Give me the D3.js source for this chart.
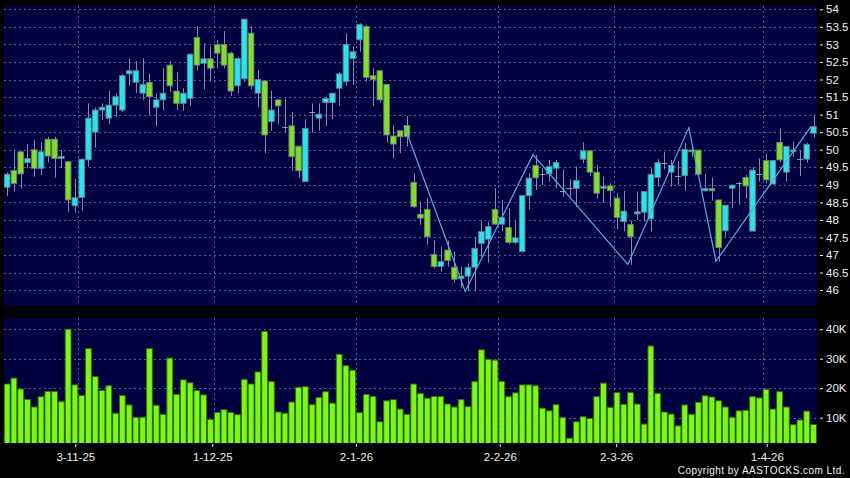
<!DOCTYPE html>
<html>
<head>
<meta charset="utf-8">
<script src="https://cdn.jsdelivr.net/npm/d3@7"></script>
<style>
  html, body { margin: 0; padding: 0; background: #000; }
  svg { display: block; font-family: "Liberation Sans", Arial, sans-serif; }
</style>
</head>
<body>
<svg id="chart" width="850" height="478"></svg>
<script>
// daily bars, oldest first (index 0 .. 119)
const opens = [48.93, 49.41, 49.94, 49.63, 50.00, 49.47, 50.30, 50.30, 49.75, 49.66,
  48.40, 48.64, 49.71, 50.50, 51.13, 50.90, 51.27, 51.13, 52.16, 51.92,
  51.61, 51.92, 51.21, 51.42, 52.41, 51.67, 51.32, 51.46, 53.20, 52.46,
  52.59, 53.00, 53.00, 52.75, 51.82, 52.02, 53.32, 51.61, 51.96, 50.80,
  51.42, 50.66, 50.68, 50.10, 49.09, 51.06, 50.90, 51.34, 51.34, 51.75,
  51.94, 52.60, 53.13, 53.51, 52.11, 52.25, 51.86, 50.39, 50.54, 50.69,
  49.07, 48.16, 48.30, 47.02, 46.67, 47.14, 46.65, 46.33, 46.40, 46.65,
  47.33, 47.45, 48.30, 47.88, 47.78, 47.36, 47.10, 48.69, 49.55, 49.31,
  49.31, 49.47, 48.81, 48.90, 48.90, 49.73, 49.97, 49.36, 48.90, 48.97,
  48.62, 47.95, 47.87, 48.17, 48.22, 48.03, 49.21, 49.63, 49.36, 49.26,
  49.26, 49.99, 49.99, 48.83, 48.89, 48.57, 47.69, 48.90, 49.06, 49.21,
  47.68, 49.30, 49.69, 49.02, 50.21, 49.36, 49.94, 49.73, 49.73, 50.47];
const highs = [49.35, 49.99, 49.95, 50.16, 50.28, 50.21, 50.37, 50.37, 49.99, 49.68,
  49.16, 49.75, 51.32, 51.20, 51.32, 51.68, 51.61, 52.16, 52.60, 52.53,
  52.60, 52.16, 51.61, 52.32, 52.53, 52.22, 51.75, 52.73, 53.52, 53.03,
  52.94, 53.13, 53.38, 52.79, 52.65, 53.72, 53.52, 52.27, 51.96, 51.68,
  51.45, 51.46, 51.07, 50.10, 50.87, 51.32, 51.32, 51.51, 51.61, 52.22,
  53.32, 52.94, 53.60, 53.55, 52.32, 52.25, 51.86, 50.70, 50.54, 50.96,
  49.33, 48.52, 48.62, 47.41, 47.24, 47.41, 47.10, 46.67, 46.76, 47.52,
  47.99, 47.95, 48.90, 48.57, 48.33, 47.98, 48.69, 49.33, 49.85, 49.47,
  49.71, 49.71, 49.44, 49.16, 49.52, 50.21, 49.97, 49.57, 49.23, 49.04,
  48.76, 48.83, 47.98, 48.81, 48.81, 49.47, 49.73, 49.94, 49.71, 49.66,
  50.20, 50.16, 49.99, 49.31, 49.21, 48.57, 48.42, 49.00, 49.09, 49.28,
  49.50, 49.75, 49.88, 49.69, 50.61, 50.09, 50.23, 49.99, 50.20, 50.96];
const lows = [48.68, 48.81, 48.89, 49.47, 49.23, 49.28, 49.63, 49.20, 49.47, 48.23,
  48.21, 48.26, 49.52, 50.06, 50.85, 50.73, 50.94, 51.08, 51.84, 51.61,
  51.42, 50.99, 50.66, 51.11, 51.65, 51.13, 51.11, 51.25, 52.25, 51.72,
  51.94, 52.32, 52.32, 51.53, 51.61, 51.94, 51.72, 51.21, 49.90, 50.54,
  50.73, 50.49, 49.40, 49.20, 49.09, 50.49, 50.54, 50.68, 50.87, 51.25,
  51.82, 51.84, 52.79, 51.94, 51.25, 51.34, 50.20, 49.75, 49.90, 50.09,
  48.33, 47.86, 47.29, 46.62, 46.53, 46.67, 46.21, 46.05, 45.96, 45.96,
  46.95, 46.78, 47.86, 47.67, 47.31, 47.31, 47.07, 48.30, 48.85, 48.99,
  49.09, 48.90, 48.66, 48.66, 48.36, 49.61, 49.25, 48.60, 48.49, 48.38,
  47.73, 47.68, 46.72, 48.00, 47.95, 47.67, 48.95, 49.44, 48.95, 48.99,
  48.83, 49.80, 49.30, 48.81, 48.55, 46.81, 47.52, 48.33, 48.43, 48.62,
  47.68, 49.09, 49.04, 49.02, 49.64, 49.09, 49.80, 49.25, 49.63, 50.35];
const closes = [49.30, 49.04, 49.31, 49.75, 49.47, 49.94, 49.82, 49.75, 49.81, 48.57,
  48.63, 49.73, 50.90, 51.13, 51.21, 51.27, 51.51, 52.11, 52.25, 52.25,
  51.86, 51.51, 51.42, 51.61, 51.82, 51.32, 51.61, 52.72, 52.41, 52.59,
  52.32, 52.75, 52.41, 51.67, 52.60, 53.72, 51.82, 52.00, 50.42, 51.13,
  51.25, 50.66, 49.80, 49.40, 50.61, 51.06, 51.01, 51.46, 51.61, 52.16,
  53.00, 52.79, 53.57, 52.06, 52.00, 51.42, 50.42, 50.16, 50.37, 50.37,
  48.38, 48.05, 47.52, 46.67, 46.81, 46.84, 46.31, 46.40, 46.65, 47.19,
  47.67, 47.81, 47.88, 48.07, 47.36, 47.49, 48.69, 49.19, 49.20, 49.31,
  49.52, 49.64, 48.81, 48.90, 49.12, 49.97, 49.36, 48.76, 48.95, 48.83,
  48.07, 48.25, 47.52, 48.23, 48.81, 49.30, 49.63, 49.63, 49.55, 49.26,
  50.01, 49.94, 49.30, 48.89, 48.83, 47.21, 48.42, 48.99, 49.06, 48.97,
  49.42, 49.30, 49.14, 49.69, 49.71, 50.09, 49.99, 49.73, 50.15, 50.66];
const volumes = [21400, 23400, 19700, 16200, 13600, 17100, 18900, 18900, 15400, 40000,
  21100, 17500, 33400, 23900, 19200, 20800, 11500, 17500, 14300, 10100,
  10100, 33400, 14200, 11100, 30200, 17900, 22800, 21800, 19200, 17700,
  9400, 11700, 12700, 11700, 11000, 23000, 21400, 25500, 39300, 22200,
  11900, 11500, 15300, 20300, 20500, 14400, 16800, 18800, 14900, 31500,
  27600, 26100, 11700, 17900, 17200, 8600, 15700, 16100, 12900, 11100,
  21400, 18200, 16600, 17200, 17200, 14600, 13600, 16100, 13700, 22200,
  33000, 29800, 29500, 22300, 17100, 18400, 21100, 21100, 20800, 13200,
  12300, 14400, 10000, 3000, 8600, 10300, 9700, 17100, 21700, 13500,
  18500, 14500, 18500, 14600, 7800, 34300, 18200, 11900, 11200, 7200,
  14300, 11100, 15200, 17400, 17000, 15700, 13600, 10100, 12300, 12500,
  17100, 16700, 19600, 12900, 18800, 13600, 7600, 9200, 12200, 7700];

// zigzag pivots: [bar index, price]
const zigzagIdx = [59, 68, 78, 92, 101, 105, 119];
const zigzagVal = [50.68, 45.96, 49.86, 46.73, 50.63, 46.82, 50.66];

// first trading day of each labelled month
const monthIdx = [11, 31, 52, 73, 90, 112];
const monthLabels = ['3-11-25', '1-12-25', '2-1-26', '2-2-26', '2-3-26', '1-4-26'];

const priceTicks = d3.range(46, 54.01, 0.5);
const volTicks = [10000, 20000, 30000, 40000];

const bars = opens.map((o, i) => ({
  i, o, h: highs[i], l: lows[i], c: closes[i], v: volumes[i]
}));

const plotL = 4;
const plotR = 817;
const priceTop = 6;
const priceBot = 306;
const volTop = 318;
const volBot = 443;

const svg = d3.select('#chart');
svg.append('rect').attr('width', 850).attr('height', 478).attr('fill', '#000');

const x = d3.scaleLinear().domain([0, 119]).range([7.15, 813.5]);
const xTick = d3.scaleLinear().domain([0, 119]).range([3.4, 818.1]);
const y = d3.scaleLinear().domain([46, 54]).range([290.1, 9.3]);
const yV = d3.scaleLinear().domain([0, 40000]).range([447.1, 329.2]);

const gridColour = '#5a5a9c';
const textColour = '#f0f0f0';

// panels
svg.append('rect')
  .attr('x', plotL).attr('y', priceTop)
  .attr('width', plotR - plotL).attr('height', priceBot - priceTop)
  .attr('fill', '#000040');
svg.append('rect')
  .attr('x', plotL).attr('y', volTop)
  .attr('width', plotR - plotL).attr('height', volBot - volTop)
  .attr('fill', '#000040');

const defs = svg.append('defs');
defs.append('clipPath').attr('id', 'clipP')
  .append('rect').attr('x', plotL).attr('y', priceTop)
  .attr('width', plotR - plotL).attr('height', priceBot - priceTop);
defs.append('clipPath').attr('id', 'clipV')
  .append('rect').attr('x', plotL).attr('y', volTop)
  .attr('width', plotR - plotL).attr('height', volBot - volTop);

// grid
const grid = svg.append('g')
  .attr('stroke', gridColour)
  .attr('stroke-dasharray', '2,3')
  .attr('shape-rendering', 'crispEdges');

grid.selectAll('.hp').data(priceTicks).enter().append('line')
  .attr('x1', plotL).attr('x2', plotR)
  .attr('y1', d => Math.round(y(d)) + 0.5).attr('y2', d => Math.round(y(d)) + 0.5);
grid.selectAll('.hv').data(volTicks).enter().append('line')
  .attr('x1', plotL).attr('x2', plotR)
  .attr('y1', d => Math.round(yV(d)) + 0.5).attr('y2', d => Math.round(yV(d)) + 0.5);
grid.selectAll('.vp').data(monthIdx).enter().append('line')
  .attr('x1', d => Math.round(x(d - 0.5)) + 0.5).attr('x2', d => Math.round(x(d - 0.5)) + 0.5)
  .attr('y1', priceTop).attr('y2', priceBot);
grid.selectAll('.vv').data(monthIdx).enter().append('line')
  .attr('x1', d => Math.round(x(d - 0.5)) + 0.5).attr('x2', d => Math.round(x(d - 0.5)) + 0.5)
  .attr('y1', volTop).attr('y2', volBot);

// candles
const bodyW = 5.6;
const candles = svg.append('g').attr('clip-path', 'url(#clipP)');

candles.selectAll('.wick').data(bars).enter().append('line')
  .attr('x1', d => Math.round(x(d.i)) + 0.5).attr('x2', d => Math.round(x(d.i)) + 0.5)
  .attr('y1', d => y(d.h)).attr('y2', d => y(d.l))
  .attr('stroke', '#8a8aa6')
  .attr('stroke-width', 1);

candles.selectAll('.body').data(bars.filter(d => d.o !== d.c)).enter().append('rect')
  .attr('x', d => x(d.i) - bodyW / 2)
  .attr('y', d => y(Math.max(d.o, d.c)))
  .attr('width', bodyW)
  .attr('height', d => Math.max(1.5, Math.abs(y(d.o) - y(d.c))))
  .attr('fill', d => (d.c > d.o ? '#22e6f0' : '#80e21e'))
  .attr('stroke', '#6b7b84')
  .attr('stroke-width', 0.9);

candles.selectAll('.doji').data(bars.filter(d => d.o === d.c)).enter().append('line')
  .attr('x1', d => x(d.i) - bodyW / 2).attr('x2', d => x(d.i) + bodyW / 2)
  .attr('y1', d => Math.round(y(d.c)) + 0.5).attr('y2', d => Math.round(y(d.c)) + 0.5)
  .attr('stroke', '#9a9ab0')
  .attr('stroke-width', 1);

// zigzag
const zz = zigzagIdx.map((d, k) => [d, zigzagVal[k]]);
svg.append('path')
  .datum(zz)
  .attr('clip-path', 'url(#clipP)')
  .attr('transform', 'translate(-2.7,0)')
  .attr('fill', 'none')
  .attr('stroke', '#4fb0e8')
  .attr('stroke-width', 1.2)
  .attr('d', d3.line().x(d => x(d[0])).y(d => y(d[1])));

// volume
svg.append('g').attr('clip-path', 'url(#clipV)')
  .selectAll('rect').data(bars).enter().append('rect')
  .attr('x', d => x(d.i) - 2.9)
  .attr('y', d => yV(d.v))
  .attr('width', 5.8)
  .attr('height', d => volBot + 2 - yV(d.v))
  .attr('fill', '#7ef812')
  .attr('stroke', '#2c7400')
  .attr('stroke-width', 0.9);

// right axes
function styleAxis(g) {
  g.select('.domain').remove();
  g.selectAll('.tick line').attr('stroke', textColour);
  g.selectAll('.tick text')
    .attr('fill', textColour)
    .style('font-size', '11.5px')
    .style('font-family', '"Liberation Sans", Arial, sans-serif');
}

svg.append('g')
  .attr('transform', `translate(${plotR + 3},0)`)
  .call(d3.axisRight(y).tickValues(priceTicks).tickSize(3).tickPadding(3)
    .tickFormat(d3.format('')))
  .call(styleAxis);

svg.append('g')
  .attr('transform', `translate(${plotR + 3},0)`)
  .call(d3.axisRight(yV).tickValues(volTicks).tickSize(3).tickPadding(3)
    .tickFormat(d => `${d / 1000}K`))
  .call(styleAxis);

// date axis
svg.append('g')
  .attr('transform', `translate(0,${volBot + 1})`)
  .call(d3.axisBottom(xTick).tickValues(monthIdx.map(d => d - 0.5)).tickSize(3).tickPadding(6)
    .tickFormat((d, k) => monthLabels[k]))
  .call(styleAxis);

svg.append('text')
  .attr('x', 845).attr('y', 474)
  .attr('text-anchor', 'end')
  .attr('fill', textColour)
  .style('font-size', '10px')
  .style('letter-spacing', '0.45px')
  .text('Copyright by AASTOCKS.com Ltd.');
</script>
</body>
</html>
